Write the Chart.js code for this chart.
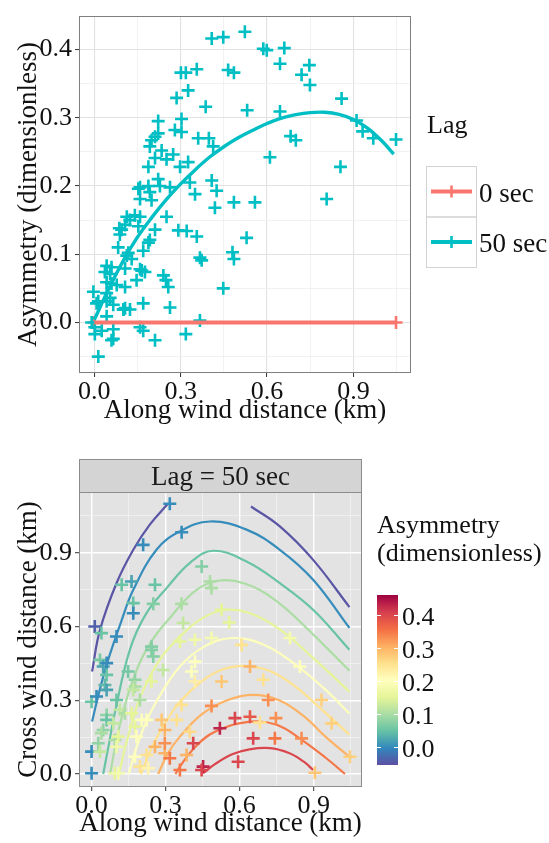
<!DOCTYPE html>
<html>
<head>
<meta charset="utf-8">
<script src="https://cdn.jsdelivr.net/npm/chart.js@4.4.1/dist/chart.umd.min.js"></script>
<style>
  html, body { margin: 0; padding: 0; background: #ffffff; }
  #page { position: relative; width: 549px; height: 843px; overflow: hidden; }
  .box { position: absolute; left: 0; width: 549px; }
</style>
</head>
<body>
<div id="page">
  <div class="box" style="top:0;height:430px"><canvas id="asymChart" width="549" height="430"></canvas></div>
  <div class="box" style="top:430px;height:413px"><canvas id="mapChart" width="549" height="413"></canvas></div>
</div>
<script>
// ---------- Asymmetry vs. along-wind distance, lag = 50 sec ----------
const lag50Along = [
  0.408, 0.448, 0.523, 0.301, 0.318, 0.356, 0.465, 0.485, 0.326, 0.286,
  0.387, 0.222, 0.303, 0.280, 0.303, 0.222, 0.211, 0.199, 0.193, 0.361,
  0.398, 0.413, 0.234, 0.251, 0.274, 0.211, 0.188, 0.298, 0.326, 0.159,
  0.188, 0.228, 0.263, 0.332, 0.350, 0.408, 0.425, 0.159, 0.199, 0.193,
  0.419, 0.587, 0.599, 0.660, 0.645, 0.747, 0.720, 0.749, 0.859, 0.531,
  0.645, 0.911, 0.932, 0.969, 1.048, 0.682, 0.700, 0.610, 0.855, 0.485,
  0.558, 0.807, 0.529, 0.480, 0.485, 0.448, 0.113, 0.124, 0.107, 0.095,
  0.089, 0.159, 0.153, 0.251, 0.211, 0.292, 0.321, 0.356, 0.188, 0.193,
  0.083, 0.118, 0.130, 0.170, 0.165, 0.176, 0.147, 0.367, 0.373, 0.240,
  0.249, 0.257, 0.263, 0.170, 0.107, 0.107, 0.124, 0.043, -0.003, 0.014,
  0.367, 0.159, 0.170, 0.211, 0.318, 0.066, 0.002, 0.060, 0.014, -0.009,
  0.043, 0.043, 0.060, 0.037, 0.055, 0.107, 0.043, 0.060, 0.078, 0.043,
  0.055, 0.066, 0.008, 0.002, 0.026, 0.066, 0.101, 0.141, 0.087, 0.222,
  0.153, 0.113, 0.159, 0.101
];
const lag50Asym = [
  0.416, 0.418, 0.426, 0.366, 0.366, 0.371, 0.370, 0.366, 0.340, 0.329,
  0.316, 0.295, 0.298, 0.282, 0.279, 0.277, 0.272, 0.267, 0.258, 0.270,
  0.270, 0.258, 0.252, 0.239, 0.246, 0.241, 0.228, 0.228, 0.235, 0.198,
  0.200, 0.200, 0.198, 0.205, 0.188, 0.208, 0.193, 0.181, 0.179, 0.191,
  0.168, 0.401, 0.399, 0.402, 0.379, 0.377, 0.363, 0.348, 0.328, 0.311,
  0.309, 0.296, 0.280, 0.270, 0.268, 0.273, 0.267, 0.242, 0.228, 0.176,
  0.176, 0.181, 0.124, 0.103, 0.093, 0.050, 0.155, 0.150, 0.143, 0.136,
  0.129, 0.155, 0.141, 0.155, 0.136, 0.135, 0.134, 0.126, 0.117, 0.121,
  0.110, 0.102, 0.093, 0.105, 0.076, 0.074, 0.062, 0.095, 0.091, 0.069,
  0.062, 0.052, 0.022, 0.028, 0.052, 0.021, 0.019, 0.009, 0.045, 0.031,
  0.003, -0.007, -0.012, -0.026, -0.017, -0.010, -0.017, -0.026, -0.050, 0.000,
  0.031, 0.083, 0.081, 0.074, 0.071, 0.079, 0.059, 0.057, 0.055, 0.043,
  0.036, 0.026, 0.028, -0.007, -0.012, -0.024, 0.019, 0.157, 0.138, 0.210,
  0.196, 0.098, 0.078, 0.019
];
// lag = 0 sec: no asymmetry at any distance
const lag0Along = [0.000, 1.048];
const lag0Asym  = [0.000, 0.000];

// smoothed trend of each lag
const fit50Along = [0.00, 0.05, 0.10, 0.15, 0.20, 0.25, 0.30, 0.35, 0.40, 0.45, 0.50, 0.55,
                    0.60, 0.65, 0.70, 0.75, 0.80, 0.85, 0.90, 0.95, 1.00, 1.04];
const fit50Asym  = [0.004, 0.049, 0.090, 0.125, 0.154, 0.180, 0.203, 0.2235, 0.242, 0.2575, 0.2705, 0.2815,
                    0.2915, 0.2995, 0.3045, 0.3075, 0.308, 0.305, 0.2975, 0.2845, 0.2655, 0.2465];
const fit0Along  = [0.000, 1.048];
const fit0Asym   = [0.000, 0.000];

const asymXTicks = [0.0, 0.3, 0.6, 0.9];
const asymYTicks = [0.0, 0.1, 0.2, 0.3, 0.4];
const lagLabels  = ['0 sec', '50 sec'];

// ---------- Cross-wind vs. along-wind map, coloured by asymmetry ----------
const mapAlong = [
  0.317, 0.365, 0.209, 0.162, 0.122, 0.257, 0.169, 0.169, 0.250, 0.013,
  0.040, 0.101, 0.243, 0.365, 0.371, 0.358, 0.419, 0.446, 0.480, 0.486,
  0.527, 0.558, 0.486, 0.608, 0.804, 0.419, 0.405, 0.419, 0.527, 0.642,
  0.696, 0.844, 0.365, 0.486, 0.716, 0.932, 0.581, 0.642, 0.682, 0.747,
  0.973, 0.520, 0.398, 0.412, 0.655, 0.743, 0.851, 0.385, 1.047, 0.594,
  0.452, 0.446, 0.358, 0.905, 0.000, 0.000, 0.000, 0.020, 0.034, 0.047,
  0.061, 0.061, 0.054, 0.061, 0.061, 0.061, 0.047, 0.040, 0.027, 0.034,
  0.094, 0.101, 0.148, 0.176, 0.176, 0.169, 0.196, 0.115, 0.135, 0.088,
  0.108, 0.101, 0.094, 0.108, 0.162, 0.176, 0.182, 0.243, 0.250, 0.290,
  0.243, 0.203, 0.223, 0.284, 0.297, 0.223, 0.176, 0.196, 0.230, 0.257,
  0.297, 0.297, 0.317, 0.345
];
const mapCross = [
  1.099, 0.983, 0.932, 0.783, 0.770, 0.770, 0.695, 0.654, 0.692, 0.600,
  0.573, 0.559, 0.518, 0.692, 0.614, 0.539, 0.546, 0.844, 0.783, 0.756,
  0.668, 0.616, 0.553, 0.525, 0.553, 0.457, 0.417, 0.376, 0.376, 0.437,
  0.383, 0.437, 0.281, 0.277, 0.301, 0.301, 0.227, 0.233, 0.209, 0.227,
  0.206, 0.186, 0.172, 0.125, 0.145, 0.145, 0.145, 0.077, 0.070, 0.050,
  0.030, 0.016, 0.016, 0.005, 0.003, 0.091, 0.294, 0.315, 0.464, 0.437,
  0.451, 0.403, 0.362, 0.342, 0.240, 0.220, 0.179, 0.166, 0.125, 0.091,
  0.138, 0.301, 0.417, 0.383, 0.356, 0.342, 0.301, 0.261, 0.247, 0.206,
  0.152, 0.111, 0.003, 0.003, 0.247, 0.193, 0.152, 0.505, 0.478, 0.423,
  0.376, 0.220, 0.220, 0.220, 0.179, 0.077, 0.070, 0.030, 0.023, 0.111,
  0.084, 0.125, 0.064, 0.220
];
const mapAsym = [
  0.00, 0.00, 0.00, 0.02, 0.05, 0.05, 0.05, 0.00, 0.07, -0.04,
  0.05, 0.00, 0.07, 0.10, 0.12, 0.15, 0.17, 0.07, 0.10, 0.10,
  0.15, 0.15, 0.18, 0.25, 0.18, 0.20, 0.20, 0.23, 0.28, 0.30,
  0.25, 0.20, 0.25, 0.33, 0.33, 0.27, 0.40, 0.38, 0.25, 0.33,
  0.27, 0.43, 0.26, 0.40, 0.40, 0.35, 0.33, 0.30, 0.27, 0.40,
  0.43, 0.40, 0.35, 0.28, 0.00, 0.00, 0.05, 0.00, 0.06, 0.02,
  0.00, 0.05, 0.04, 0.02, 0.08, 0.05, 0.08, 0.10, 0.08, 0.12,
  0.10, 0.05, 0.06, 0.08, 0.10, 0.12, 0.10, 0.12, 0.10, 0.12,
  0.15, 0.17, 0.15, 0.18, 0.15, 0.15, 0.20, 0.07, 0.07, 0.12,
  0.15, 0.20, 0.20, 0.28, 0.30, 0.25, 0.20, 0.25, 0.22, 0.30,
  0.30, 0.33, 0.35, 0.25
];

// iso-asymmetry curves, as [along, cross] pairs
const contourLevels = [-0.05, -0.05, 0.00, 0.05, 0.10, 0.15, 0.20, 0.25, 0.30, 0.35, 0.40];
const isoM05a = [[0.002, 0.417], [0.034, 0.586], [0.101, 0.776], [0.169, 0.912], [0.236, 1.014], [0.310, 1.100]];
const isoM05b = [[0.646, 1.088], [0.763, 1.007], [0.898, 0.871], [1.045, 0.679]];
const iso000 = [[0.002, 0.213], [0.030, 0.330], [0.067, 0.464], [0.120, 0.620], [0.169, 0.749], [0.263, 0.912],
                [0.358, 0.987], [0.480, 1.027], [0.628, 0.994], [0.763, 0.912], [0.898, 0.790], [1.045, 0.594]];
const iso005 = [[0.047, 0.000], [0.070, 0.120], [0.094, 0.247], [0.155, 0.505], [0.220, 0.650], [0.304, 0.756],
                [0.400, 0.860], [0.493, 0.908], [0.628, 0.864], [0.763, 0.776], [0.898, 0.668], [1.045, 0.505]];
const iso010 = [[0.075, 0.000], [0.110, 0.180], [0.160, 0.360], [0.230, 0.520], [0.330, 0.650], [0.420, 0.745],
                [0.510, 0.786], [0.620, 0.775], [0.740, 0.710], [0.870, 0.595], [1.045, 0.420]];
const iso015 = [[0.110, 0.000], [0.150, 0.160], [0.200, 0.320], [0.280, 0.470], [0.380, 0.580], [0.460, 0.640],
                [0.545, 0.668], [0.640, 0.655], [0.760, 0.590], [0.900, 0.470], [1.045, 0.335]];
const iso020 = [[0.150, 0.000], [0.200, 0.160], [0.260, 0.290], [0.358, 0.437], [0.460, 0.520], [0.574, 0.553],
                [0.700, 0.525], [0.820, 0.450], [0.940, 0.350], [1.045, 0.246]];
const iso025 = [[0.200, 0.000], [0.250, 0.120], [0.300, 0.210], [0.358, 0.294], [0.450, 0.380], [0.530, 0.425],
                [0.615, 0.440], [0.720, 0.420], [0.820, 0.360], [0.930, 0.265], [1.045, 0.160]];
const iso030 = [[0.270, 0.000], [0.310, 0.085], [0.358, 0.152], [0.450, 0.245], [0.550, 0.300], [0.655, 0.322],
                [0.760, 0.300], [0.860, 0.235], [0.950, 0.150], [1.045, 0.070]];
const iso035 = [[0.340, 0.000], [0.358, 0.030], [0.420, 0.110], [0.500, 0.172], [0.642, 0.213], [0.750, 0.200],
                [0.850, 0.140], [0.950, 0.065], [1.027, 0.000]];
const iso040 = [[0.452, 0.003], [0.500, 0.040], [0.570, 0.080], [0.640, 0.100], [0.723, 0.105], [0.800, 0.085],
                [0.860, 0.050], [0.898, 0.016]];
const contourPaths = [isoM05a, isoM05b, iso000, iso005, iso010, iso015, iso020, iso025, iso030, iso035, iso040];

const mapXTicks = [0.0, 0.3, 0.6, 0.9];
const mapYTicks = [0.0, 0.3, 0.6, 0.9];
const colourbarTicks = [0.0, 0.1, 0.2, 0.3, 0.4];
const colourLimits = [-0.055, 0.46];

// ---------- shared helpers ----------
const SERIF = '"Liberation Serif", "Times New Roman", serif';
const LAG0 = '#F8766D', LAG50 = '#00BFC4';
const spectral = ['#5E4FA2', '#3288BD', '#66C2A5', '#ABDDA4', '#E6F598', '#FFFFBF',
                  '#FEE08B', '#FDAE61', '#F46D43', '#D53E4F', '#9E0142'];

function hexRgb(h) { return [1, 3, 5].map(i => parseInt(h.substr(i, 2), 16)); }
function asymColour(v) {
  let t = (v - colourLimits[0]) / (colourLimits[1] - colourLimits[0]);
  t = Math.max(0, Math.min(1, t)) * (spectral.length - 1);
  const i = Math.min(Math.floor(t), spectral.length - 2), f = t - i;
  const a = hexRgb(spectral[i]), b = hexRgb(spectral[i + 1]);
  const c = a.map((x, k) => Math.round(x + (b[k] - x) * f));
  return `rgb(${c[0]},${c[1]},${c[2]})`;
}
function pairs(xs, ys) { return xs.map((x, i) => ({ x, y: ys[i] })); }
function isMajor(v, majors) { return majors.some(m => Math.abs(m - v) < 1e-6); }
function gridTicks(majors, min, max) {
  const half = (majors[1] - majors[0]) / 2, out = [];
  for (let k = -6; k < 60; k++) {
    const v = +(majors[0] + k * half).toFixed(6);
    if (v >= min - 1e-9 && v <= max + 1e-9) out.push(v);
  }
  return out;
}
function axis(opts) {
  const { min, max, majors, title, size, major, minor, majorW, minorW } = opts;
  return {
    type: 'linear', min, max,
    afterBuildTicks: s => { s.ticks = gridTicks(majors, min, max).map(v => ({ value: v })); },
    afterFit: s => { if (s.isHorizontal()) s.height = size; else s.width = size; },
    ticks: {
      autoSkip: false, maxRotation: 0, padding: opts.pad,
      color: '#111', font: { family: SERIF, size: 26, lineHeight: 1.0 },
      callback: v => isMajor(v, majors) ? v.toFixed(1) : ''
    },
    grid: {
      color: c => isMajor(c.tick.value, majors) ? major : minor,
      lineWidth: c => isMajor(c.tick.value, majors) ? majorW : minorW,
      tickColor: c => isMajor(c.tick.value, majors) ? '#333333' : 'rgba(0,0,0,0)',
      tickWidth: 1, tickLength: 4, drawTicks: true
    },
    border: { display: false },
    title: {
      display: true, text: title, color: '#111',
      font: { family: SERIF, size: 27, lineHeight: 1.2 },
      padding: opts.titlePad
    }
  };
}
function crossStyle(colour) {
  return { pointStyle: 'cross', pointRadius: 6.5, pointBorderWidth: 2.6,
           pointBorderColor: colour, pointBackgroundColor: colour, showLine: false };
}

// ---------- top chart ----------
const asymDecor = {
  id: 'asymDecor',
  afterDraw(chart) {
    const { ctx, chartArea: a } = chart;
    ctx.save();
    ctx.strokeStyle = '#7f7f7f'; ctx.lineWidth = 1;
    ctx.strokeRect(a.left + 0.5, a.top + 0.5, a.right - a.left - 1, a.bottom - a.top - 1);
    // legend
    const lx = a.right + 15, ly = 166;
    ctx.fillStyle = '#111'; ctx.textAlign = 'left'; ctx.textBaseline = 'alphabetic';
    ctx.font = `26px ${SERIF}`;
    ctx.fillText('Lag', lx + 1, 133);
    [LAG0, LAG50].forEach((col, i) => {
      const top = ly + 50.5 * i;
      ctx.strokeStyle = '#d2d2d2'; ctx.lineWidth = 1;
      ctx.strokeRect(lx + 0.5, top + 0.5, 50, 50.5);
      const cy = top + 25.5, cx = lx + 25.5;
      ctx.strokeStyle = col; ctx.lineWidth = 4; ctx.lineCap = 'butt';
      ctx.beginPath(); ctx.moveTo(lx + 5, cy); ctx.lineTo(lx + 46, cy); ctx.stroke();
      ctx.lineWidth = 2.6;
      ctx.beginPath(); ctx.moveTo(cx, cy - 6); ctx.lineTo(cx, cy + 6); ctx.stroke();
      ctx.font = `27px ${SERIF}`; ctx.fillStyle = '#111';
      ctx.fillText(lagLabels[i], lx + 53, top + 35.5);
    });
    ctx.restore();
  }
};

new Chart(document.getElementById('asymChart'), {
  type: 'scatter',
  data: {
    datasets: [
      { type: 'line', data: pairs(fit50Along, fit50Asym), borderColor: LAG50, borderWidth: 3.4,
        pointRadius: 0, tension: 0.4, fill: false, order: 0 },
      { type: 'line', data: pairs(fit0Along, fit0Asym), borderColor: LAG0, borderWidth: 4,
        pointRadius: 0, fill: false, order: 1 },
      { data: pairs(lag50Along, lag50Asym), ...crossStyle(LAG50), order: 2 },
      { data: pairs(lag0Along, lag0Asym), ...crossStyle(LAG0), order: 3 }
    ]
  },
  options: {
    responsive: false, animation: false, devicePixelRatio: 1, events: [],
    layout: { padding: { left: 0, right: 138, top: 8, bottom: 0 } },
    plugins: { legend: { display: false }, tooltip: { enabled: false } },
    scales: {
      x: axis({ min: -0.053, max: 1.10, majors: asymXTicks, title: 'Along wind distance (km)', size: 57,
                major: '#e2e2e2', minor: '#efefef', majorW: 1.1, minorW: 0.8, pad: 2,
                titlePad: { top: 0, bottom: 3 } }),
      y: axis({ min: -0.074, max: 0.449, majors: asymYTicks, title: 'Asymmetry (dimensionless)', size: 79,
                major: '#e2e2e2', minor: '#efefef', majorW: 1.1, minorW: 0.8, pad: 3,
                titlePad: { top: 13, bottom: 0 } })
    }
  },
  plugins: [asymDecor]
});

// ---------- bottom chart ----------
const mapDecor = {
  id: 'mapDecor',
  beforeDraw(chart) {
    const { ctx, chartArea: a } = chart;
    ctx.save(); ctx.fillStyle = '#e3e3e3';
    ctx.fillRect(a.left, a.top, a.right - a.left, a.bottom - a.top); ctx.restore();
  },
  afterDraw(chart) {
    const { ctx, chartArea: a } = chart;
    ctx.save();
    ctx.strokeStyle = '#8c8c8c'; ctx.lineWidth = 1;
    ctx.strokeRect(a.left + 0.5, a.top + 0.5, a.right - a.left - 1, a.bottom - a.top - 1);
    // facet strip
    const sh = 33, st = a.top - sh;
    ctx.fillStyle = '#d4d4d4'; ctx.fillRect(a.left, st, a.right - a.left, sh);
    ctx.strokeRect(a.left + 0.5, st + 0.5, a.right - a.left - 1, sh);
    ctx.fillStyle = '#1a1a1a'; ctx.font = `27px ${SERIF}`;
    ctx.textAlign = 'center'; ctx.textBaseline = 'alphabetic';
    ctx.fillText('Lag = 50 sec', (a.left + a.right) / 2, st + 26);
    // colour bar
    const bx = a.right + 15, bw = 21, bTop = 165, bBot = 335;
    const grad = ctx.createLinearGradient(0, bBot, 0, bTop);
    spectral.forEach((c, i) => grad.addColorStop(i / (spectral.length - 1), c));
    ctx.fillStyle = grad; ctx.fillRect(bx, bTop, bw, bBot - bTop);
    const yOf = v => bBot - (v - colourLimits[0]) / (colourLimits[1] - colourLimits[0]) * (bBot - bTop);
    ctx.strokeStyle = '#ffffff'; ctx.lineWidth = 1;
    ctx.font = `26px ${SERIF}`; ctx.textAlign = 'left'; ctx.fillStyle = '#111';
    colourbarTicks.forEach(v => {
      const y = Math.round(yOf(v)) + 0.5;
      ctx.beginPath(); ctx.moveTo(bx, y); ctx.lineTo(bx + 4, y);
      ctx.moveTo(bx + bw - 4, y); ctx.lineTo(bx + bw, y); ctx.stroke();
      ctx.fillText(v.toFixed(1), bx + bw + 4, y + 9);
    });
    ctx.font = `26px ${SERIF}`;
    ctx.fillText('Asymmetry', bx, 103);
    ctx.fillText('(dimensionless)', bx, 131);
    ctx.restore();
  }
};

const contourSets = contourPaths.map((p, i) => ({
  type: 'line', data: p.map(([x, y]) => ({ x, y })), borderColor: asymColour(contourLevels[i]),
  borderWidth: 2.2, pointRadius: 0, tension: 0.4, fill: false, order: 1 + i
}));

new Chart(document.getElementById('mapChart'), {
  type: 'scatter',
  data: {
    datasets: [
      { data: pairs(mapAlong, mapCross), pointStyle: 'cross', pointRadius: 6.5, pointBorderWidth: 2.6,
        pointBorderColor: mapAsym.map(asymColour), pointBackgroundColor: mapAsym.map(asymColour),
        showLine: false, order: 0 },
      ...contourSets
    ]
  },
  options: {
    responsive: false, animation: false, devicePixelRatio: 1, events: [],
    layout: { padding: { left: 0, right: 187, top: 62, bottom: 0 } },
    plugins: { legend: { display: false }, tooltip: { enabled: false } },
    scales: {
      x: axis({ min: -0.051, max: 1.096, majors: mapXTicks, title: 'Along wind distance (km)', size: 56,
                major: '#ffffff', minor: '#f4f4f4', majorW: 1.4, minorW: 0.7, pad: 2,
                titlePad: { top: 0, bottom: 3 } }),
      y: axis({ min: -0.053, max: 1.147, majors: mapYTicks, title: 'Cross wind distance (km)', size: 79,
                major: '#ffffff', minor: '#f4f4f4', majorW: 1.4, minorW: 0.7, pad: 3,
                titlePad: { top: 13, bottom: 0 } })
    }
  },
  plugins: [mapDecor]
});
</script>
</body>
</html>
